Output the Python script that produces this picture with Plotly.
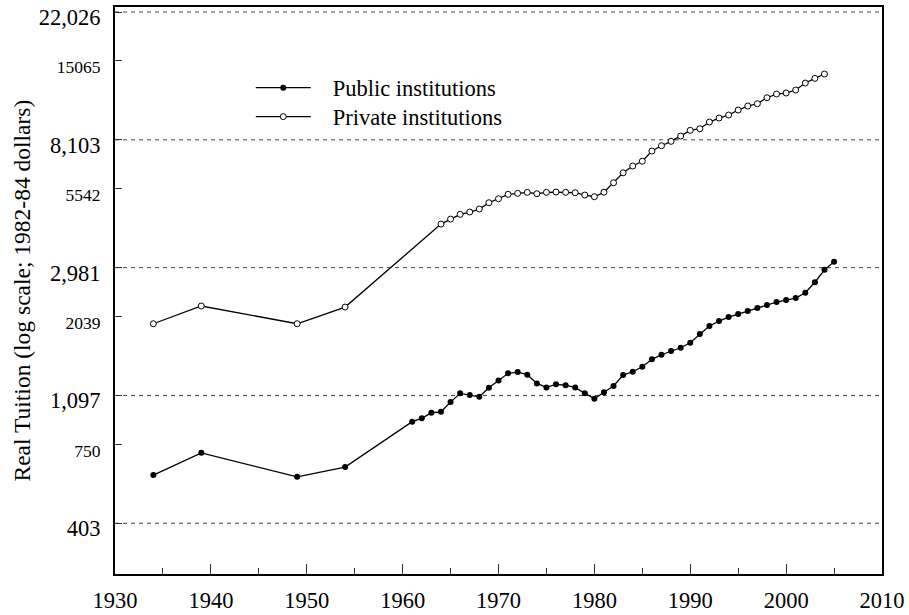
import plotly.graph_objects as go

# ---------------- data ----------------
PUBLIC_YEARS = [1934, 1939, 1949, 1954] + list(range(1961, 2006))
PUBLIC_TUITION = [588, 700, 580, 626,
                  893, 917, 958, 965, 1041, 1115, 1100, 1085, 1165, 1234,
                  1304, 1317, 1290, 1205, 1168, 1196, 1188, 1166, 1115, 1069,
                  1124, 1181, 1286, 1320, 1373, 1455, 1508, 1552, 1593, 1656,
                  1773, 1887, 1963, 2025, 2074, 2122, 2173, 2224, 2277, 2313,
                  2350, 2450, 2660, 2930, 3120]

PRIVATE_YEARS = [1934, 1939, 1949, 1954] + list(range(1964, 2005))
PRIVATE_TUITION = [1922, 2208, 1922, 2190,
                   4192, 4359, 4523, 4606, 4715, 4954, 5110, 5290, 5332, 5373,
                   5315, 5373, 5386, 5373, 5357, 5261, 5192, 5378, 5792, 6259,
                   6601, 6854, 7424, 7737, 8009, 8347, 8728, 8839, 9314, 9610,
                   9838, 10231, 10557, 10748, 11264, 11596, 11686, 11964, 12637,
                   13111, 13560]

Y_TICK_VALUES = [403.4288, 750, 1096.633, 2039, 2980.958, 5542, 8103.084, 15065, 22026.47]
Y_TICK_LABELS = ["403", "750", "1,097", "2039", "2,981", "5542", "8,103", "15065", "22,026"]
Y_TICK_MAJOR = [True, False, True, False, True, False, True, False, True]
X_TICK_VALUES = [1930, 1940, 1950, 1960, 1970, 1980, 1990, 2000, 2010]
X_MINOR_TICKS = [1935, 1945, 1955, 1965, 1975, 1985, 1995, 2005]

FONT = "Liberation Serif"
BIG = 22.5
SMALL = 17.5
PAD = "\u00a0\u00a0\u00a0"  # gap between legend sample and text

# tick text: major labels large, intermediate labels smaller
ticktext = [lab if major else f'<span style="font-size:{SMALL}px">{lab}</span>'
            for lab, major in zip(Y_TICK_LABELS, Y_TICK_MAJOR)]
grid_values = [v for v, major in zip(Y_TICK_VALUES, Y_TICK_MAJOR) if major]

fig = go.Figure()
fig.add_trace(go.Scatter(
    x=PUBLIC_YEARS, y=PUBLIC_TUITION, mode="lines+markers",
    name=PAD + "Public institutions", legend="legend",
    line=dict(color="black", width=1.3),
    marker=dict(symbol="circle", size=6, color="black"),
))
fig.add_trace(go.Scatter(
    x=PRIVATE_YEARS, y=PRIVATE_TUITION, mode="lines+markers",
    name=PAD + "Private institutions", legend="legend2",
    line=dict(color="black", width=1.3),
    marker=dict(symbol="circle", size=6, color="white",
                line=dict(color="black", width=1)),
))

for gv in grid_values:
    fig.add_shape(type="line", xref="paper", x0=0, x1=1, yref="y", y0=gv, y1=gv,
                  line=dict(color="#444", width=1, dash="4px,4px"), layer="below")

fig.add_annotation(text="Real Tuition (log scale; 1982-84 dollars)",
                   xref="paper", yref="paper", x=0, y=0.5, xanchor="center",
                   yanchor="middle", xshift=-94, textangle=-90, showarrow=False,
                   font=dict(family=FONT, size=23.5, color="black"))

legend_style = dict(xanchor="left", yanchor="middle", bgcolor="rgba(0,0,0,0)",
                    font=dict(family=FONT, size=BIG, color="black"), itemwidth=55)
fig.update_layout(
    width=909, height=615,
    margin=dict(l=115, r=27, t=7, b=41, autoexpand=False),
    paper_bgcolor="white", plot_bgcolor="white",
    font=dict(family=FONT, size=BIG, color="black"),
    showlegend=True,
    legend=dict(x=0.177, y=0.857, **legend_style),
    legend2=dict(x=0.177, y=0.806, **legend_style),
)
fig.update_xaxes(
    range=[1930, 2010], tickvals=X_TICK_VALUES, ticks="inside", ticklen=10,
    tickwidth=1, tickcolor="#333", showgrid=False, zeroline=False,
    showline=True, linewidth=2, linecolor="black", mirror=True,
    ticklabelstandoff=5, automargin=False, ticklabeloverflow="allow",
    minor=dict(tickvals=X_MINOR_TICKS, ticks="inside", ticklen=6,
               tickwidth=1, tickcolor="#333"),
)
fig.update_yaxes(
    type="log", range=[2.4334, 4.3600], tickvals=Y_TICK_VALUES, ticktext=ticktext,
    ticks="inside", ticklen=7, tickwidth=1, tickcolor="#333", showgrid=False,
    zeroline=False, showline=True, linewidth=2, linecolor="black", mirror=True,
    ticklabelstandoff=8, ticklabelshift=5, automargin=False,
    ticklabeloverflow="allow",
)

fig.write_html("out.html")
